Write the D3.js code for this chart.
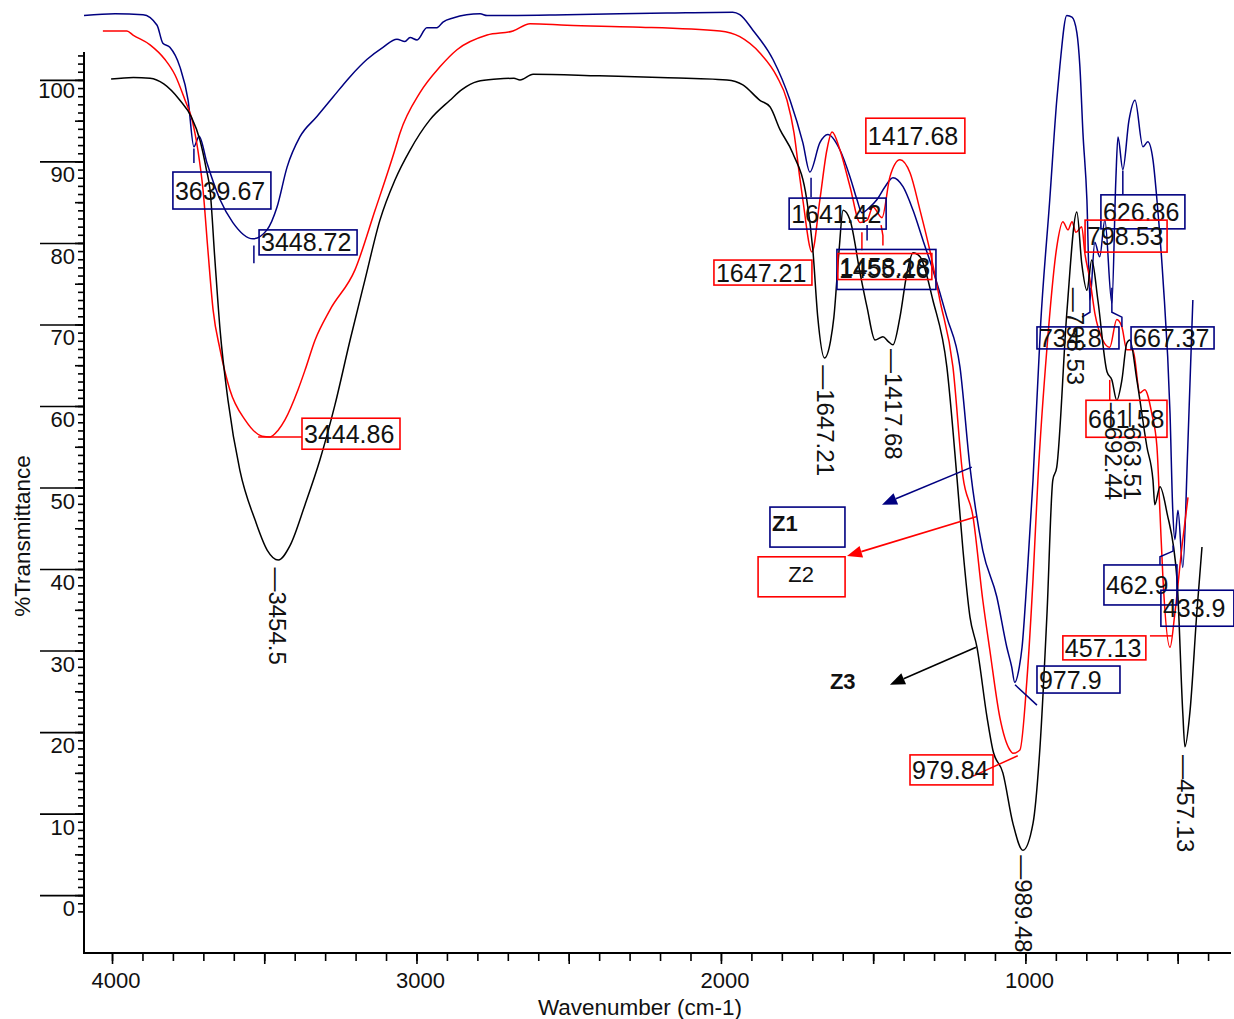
<!DOCTYPE html>
<html>
<head>
<meta charset="utf-8">
<script src="https://cdn.jsdelivr.net/npm/d3@7"></script>
<style>
  body { margin: 0; background: #fff; }
  text { font-family: "Liberation Sans", Arial, sans-serif; fill: #111; }
</style>
</head>
<body>
<svg id="chart" width="1234" height="1019"></svg>
<script>
// Spectra: [wavenumber (cm-1), %T]
var z1 = [[4092,107.9],[3990,108.1],[3898,108],[3852,106.7],[3833,104.5],[3810,104],[3777,101.6],[3750,97.5],
  [3731,91.8],[3714,93.1],[3688,89.8],[3645,85.3],[3603,82.5],[3537,80.5],[3491,81.6],[3458,84.4],[3425,89.3],
  [3383,93],[3327,95.5],[3274,97.9],[3218,100.4],[3163,102.5],[3110,104],[3064,105],[3038,104.7],[3021,105.2],
  [2998,104.9],[2966,106.4],[2933,106.4],[2913,107.1],[2880,107.6],[2791,108.1],[2768,107.9],[2506,108],
  [2177,108.2],[1961,108.3],[1938,108],[1895,106.1],[1829,102.5],[1773,97.5],[1731,92.3],[1708,88.7],
  [1675,92.3],[1649,93.3],[1609,91.4],[1576,88.1],[1553,85.3],[1537,83.7],[1511,84.4],[1488,85.3],[1461,86.9],
  [1435,88],[1402,86.9],[1369,84],[1337,80.4],[1304,76.7],[1258,70.9],[1215,64.8],[1182,52.5],[1140,42.3],
  [1094,36.6],[1061,30.4],[1045,28],[1035,26.1],[1020,28],[1011,30.4],[995,38.7],[975,50.9],[950,70],
  [920,85.3],[897,97.5],[887,101.6],[864,107.9],[847,107.7],[831,105.8],[821,101.6],[811,93.5],[798,85.3],
  [788,73],[772,80.1],[756,78.3],[739,82.8],[716,72.6],[703,87.7],[696,93],[680,89],[660,95],[640,97.5],
  [614,91.8],[598,92.4],[581,90.2],[568,85.3],[548,75.5],[525,59.1],[516,47.2],[509,43.6],[499,47.2],
  [483,40.2],[467,54.6],[450,73]];

var z2 = [[4030,106],[3951,106],[3931,105.5],[3875,104.3],[3826,102.5],[3793,100.6],[3760,97.5],[3737,95.1],
  [3718,91.4],[3701,86.5],[3685,79.1],[3668,71.8],[3645,66.9],[3613,62],[3563,58.3],[3507,56.3],[3481,56.2],
  [3455,57],[3432,58.3],[3389,62],[3366,64.4],[3333,68.1],[3284,71.8],[3202,76.7],[3136,84],[3071,91.4],
  [3054,93.5],[2989,98.4],[2923,101.6],[2867,103.7],[2768,105.5],[2683,106],[2627,106.9],[2506,106.7],
  [2289,106.5],[2003,106],[1938,105.3],[1872,103.3],[1816,100.4],[1783,97.5],[1760,93.5],[1741,88],
  [1731,85.3],[1701,78.9],[1675,85.3],[1652,91.4],[1635,93.6],[1609,91.4],[1576,86.9],[1543,82.5],
  [1520,82.8],[1501,84.4],[1471,83.1],[1445,88.1],[1412,90.2],[1379,88.6],[1346,84],[1314,79.1],[1281,73],
  [1238,64.8],[1205,51.3],[1172,46.4],[1140,36.2],[1117,30.1],[1084,21.8],[1051,17.8],[1041,17.4],
  [1018,17.8],[995,26.4],[975,38.7],[959,50.9],[929,67.2],[897,79.5],[877,82.6],[860,81.6],[847,82.6],
  [834,81.3],[815,82],[805,78.8],[788,75.5],[772,71.4],[746,68.1],[723,67.2],[700,70.6],[683,69.7],
  [667,66.9],[647,66.9],[624,61.6],[608,62],[585,59.1],[568,55],[558,46.9],[548,38.7],[525,30.4],
  [509,34.6],[486,42.7],[466,48.8]];

var z3 = [[4003,100.1],[3930,100.3],[3875,100.2],[3830,99.5],[3777,97.5],[3740,95.5],[3711,92.6],[3690,89],
  [3678,86.5],[3662,77.9],[3645,69.3],[3619,60.7],[3580,52.1],[3530,46],[3490,42.3],[3454,41.1],[3415,42.9],
  [3366,47.9],[3317,53.4],[3268,60.1],[3218,68.1],[3169,75.5],[3120,82.8],[3071,87.7],[3021,91.4],
  [2956,95.1],[2890,97.5],[2851,98.8],[2800,99.8],[2736,100.1],[2680,100.2],[2660,100],[2617,100.7],
  [2400,100.5],[2200,100.3],[1980,100],[1928,99.4],[1872,97.5],[1839,96.7],[1806,93.9],[1764,91],
  [1718,85.3],[1698,79.1],[1682,70.9],[1660,65.9],[1640,68],[1629,70.9],[1612,79.1],[1599,84],[1576,82.8],
  [1543,76.3],[1520,72.1],[1494,68.1],[1468,68.5],[1450,67.9],[1435,67.5],[1412,70.9],[1389,76.3],
  [1369,78.8],[1346,78.3],[1304,73],[1258,64.8],[1225,51.3],[1205,42.3],[1182,34.1],[1159,30.4],
  [1126,21.8],[1107,17.8],[1074,15],[1041,8.8],[1008,5.5],[975,8.8],[952,18.2],[929,34.6],[910,50.9],
  [897,52.5],[864,71.4],[831,83.8],[815,77.5],[798,74.2],[782,77.9],[762,73],[732,64.2],[716,63.2],
  [700,60.7],[683,63.2],[667,67.7],[657,68.1],[634,63.2],[601,55],[581,50.9],[575,47.9],[558,50.1],
  [535,46.9],[502,38.7],[483,22.3],[476,18.2],[460,22.3],[437,34.6],[420,42.7]];

var seriesNames = ["Z1", "Z2", "Z3"];
var seriesColors = ["#000080", "#ff0000", "#000000"];

var xTicksMajor = [4000, 3000, 2000, 1000];
var yTicksMajor = [0, 10, 20, 30, 40, 50, 60, 70, 80, 90, 100];

// boxed peak labels: text, series, box top-left [wavenumber, %T], box size px
var boxLabels = [
  ["3639.67", 0, 3800, 88.7, 98, 37], ["3448.72", 0, 3517, 81.6, 98, 25],
  ["3444.86", 1, 3376, 58.5, 98, 31], ["1641.42", 0, 1776, 85.5, 97, 31],
  ["1417.68", 1, 1524, 95.3, 99, 35], ["1647.21", 1, 2023, 77.9, 98, 25],
  ["1455.26", 0, 1619, 79.2, 99, 40], ["1458.18", 1, 1616, 78.7, 94, 26],
  ["626.86", 0, 752, 85.9, 84, 34], ["798.53", 1, 804, 82.8, 82, 32],
  ["734.8", 0, 962, 69.7, 82, 22], ["667.37", 0, 653, 69.7, 83, 22],
  ["661.58", 1, 801, 60.7, 81, 37], ["462.9", 0, 742, 40.5, 73, 40],
  ["433.9", 0, 555, 37.4, 73, 36], ["457.13", 1, 877, 31.8, 83, 24],
  ["977.9", 0, 962, 28.1, 83, 27], ["979.84", 1, 1379, 17.2, 83, 30]
];

// leader lines for boxed labels: series, points [wavenumber, %T]
var leaders = [
  [0, [[3731, 91.6], [3731, 89.8]]], [0, [[3534, 79.7], [3534, 77.5]]],
  [1, [[3520, 56.2], [3376, 56.2]]], [0, [[1704, 88], [1704, 85.6]]],
  [0, [[1520, 82.2], [1520, 80.3]]], [1, [[1537, 81.3], [1537, 79.1]]],
  [1, [[1474, 82.2], [1468, 80.9], [1468, 79.7]]],
  [0, [[680, 88.9], [680, 85.9]]], [0, [[814, 70.9], [788, 71.5], [788, 74.5]]],
  [0, [[716, 74.5], [716, 71.5], [683, 70.9], [683, 69.7]]],
  [1, [[723, 63.2], [723, 60.7]]],
  [0, [[558, 40.5], [558, 41.5], [515, 42.2], [515, 42.9]]],
  [1, [[591, 31.8], [519, 31.8]]], [0, [[1034, 25.8], [962, 23.3]]],
  [1, [[1172, 14.6], [1025, 17.1]]]
];

// vertical peak labels of Z3: text, start [wavenumber, %T]
var vLabels = [
  ["3454.5", 3458, 40.2], ["1647.21", 1658, 65], ["1417.68", 1435, 67], ["989.48", 1008, 4.9],
  ["457.13", 476, 17.2], ["798.53", 836, 74.5], ["692.44", 712, 60.4], ["663.51", 647, 60.4]
];

// legend arrows: series, from [w, %T], to [w, %T]
var arrows = [
  [0, [1176, 52.5], [1471, 47.9]],
  [1, [1162, 46.4], [1586, 41.6]],
  [2, [1162, 30.4], [1445, 25.8]]
];

var svg = d3.select("#chart");
var x = d3.scaleLinear().domain([4092, 328]).range([84, 1230]);
var y = d3.scaleLinear().domain([-7.1, 103.3]).range([953, 53]);

// x axis
var xg = svg.append("g").attr("transform", "translate(0,953)");
xg.call(d3.axisBottom(x).tickValues(d3.range(400, 4001, 100)).tickSize(8).tickFormat(""));
xg.append("g").call(d3.axisBottom(x).tickValues(d3.range(500, 4001, 500)).tickSize(11).tickFormat(""));
xg.selectAll(".domain").remove();
xg.append("line").attr("x1", 83).attr("x2", 1231).attr("stroke", "#000").attr("stroke-width", 2);
xg.selectAll(".tick line").attr("stroke", "#000").attr("stroke-width", 1.6);
xg.selectAll(".xlab").data(xTicksMajor).enter().append("text")
  .attr("x", function(d) { return x(d) + 4; }).attr("y", 35)
  .attr("text-anchor", "middle").style("font-size", "22px").text(function(d) { return d; });

// y axis
var yg = svg.append("g").attr("transform", "translate(84,0)");
yg.call(d3.axisLeft(y).tickValues(d3.range(-2, 104, 1)).tickSize(6).tickFormat(""));
yg.append("g").call(d3.axisLeft(y).tickValues(d3.range(0, 104, 5)).tickSize(9).tickFormat(""));
yg.append("g").call(d3.axisLeft(y).tickValues(yTicksMajor).tickSize(44).tickFormat(""));
yg.selectAll(".domain").remove();
yg.append("line").attr("y1", 52).attr("y2", 954).attr("stroke", "#000").attr("stroke-width", 2);
yg.selectAll(".tick line").attr("stroke", "#000").attr("stroke-width", 1.6);
yg.selectAll(".ylab").data(yTicksMajor).enter().append("text")
  .attr("x", -9).attr("y", function(d) { return y(d) + (d === 100 ? 18 : 21); })
  .attr("text-anchor", "end").style("font-size", "22px").text(function(d) { return d; });

// axis titles
svg.append("text").attr("x", 640).attr("y", 1015).attr("text-anchor", "middle")
  .style("font-size", "22.5px").text("Wavenumber (cm-1)");
svg.append("text").attr("transform", "translate(30,536) rotate(-90)").attr("text-anchor", "middle")
  .style("font-size", "22.5px").text("%Transmittance");

// spectra
var line = d3.line().x(function(d) { return x(d[0]); }).y(function(d) { return y(d[1]); })
  .curve(d3.curveMonotoneX);
[z1, z2, z3].forEach(function(s, i) {
  svg.append("path").datum(s).attr("d", line).attr("fill", "none")
    .attr("stroke", seriesColors[i]).attr("stroke-width", 1.5);
});

// leader lines
var pline = d3.line().x(function(d) { return x(d[0]); }).y(function(d) { return y(d[1]); });
leaders.forEach(function(l) {
  svg.append("path").attr("d", pline(l[1])).attr("fill", "none")
    .attr("stroke", seriesColors[l[0]]).attr("stroke-width", 1.5);
});

// boxed labels
boxLabels.forEach(function(b) {
  var bx = x(b[2]), by = y(b[3]);
  svg.append("rect").attr("x", bx).attr("y", by).attr("width", b[4]).attr("height", b[5])
    .attr("fill", "none").attr("stroke", seriesColors[b[1]]).attr("stroke-width", 1.6);
  svg.append("text").attr("x", bx + 2).attr("y", by + b[5] / 2 + 9)
    .style("font-size", "25px").text(b[0]);
});

// vertical labels of Z3
vLabels.forEach(function(v) {
  svg.append("text").attr("transform", "translate(" + x(v[1]) + "," + y(v[2]) + ") rotate(90)")
    .attr("dy", "0.35em").style("font-size", "24px").text("\u2014" + v[0]);
});

// legend boxes and arrows
var z1x = x(1839), z1y = y(47.6);
svg.append("rect").attr("x", z1x).attr("y", z1y).attr("width", 75).attr("height", 40)
  .attr("fill", "none").attr("stroke", seriesColors[0]).attr("stroke-width", 1.6);
svg.append("text").attr("x", z1x + 2).attr("y", z1y + 24).style("font-size", "22px")
  .style("font-weight", "bold").text(seriesNames[0]);
var z2x = x(1878), z2y = y(41.5);
svg.append("rect").attr("x", z2x).attr("y", z2y).attr("width", 87).attr("height", 40)
  .attr("fill", "none").attr("stroke", seriesColors[1]).attr("stroke-width", 1.6);
svg.append("text").attr("x", z2x + 43).attr("y", z2y + 25).attr("text-anchor", "middle")
  .style("font-size", "22px").text(seriesNames[1]);
svg.append("text").attr("x", x(1642)).attr("y", y(25.3)).style("font-size", "22px")
  .style("font-weight", "bold").text(seriesNames[2]);

arrows.forEach(function(a) {
  var x1 = x(a[1][0]), y1 = y(a[1][1]), x2 = x(a[2][0]), y2 = y(a[2][1]);
  var ang = Math.atan2(y2 - y1, x2 - x1), len = 15, half = 6;
  var bx = x2 - len * Math.cos(ang), by = y2 - len * Math.sin(ang);
  svg.append("line").attr("x1", x1).attr("y1", y1).attr("x2", bx).attr("y2", by)
    .attr("stroke", seriesColors[a[0]]).attr("stroke-width", 1.6);
  var pts = [[x2, y2],
    [bx + half * Math.sin(ang), by - half * Math.cos(ang)],
    [bx - half * Math.sin(ang), by + half * Math.cos(ang)]];
  svg.append("polygon").attr("points", pts.map(function(p) { return p.join(","); }).join(" "))
    .attr("fill", seriesColors[a[0]]);
});
</script>
</body>
</html>
